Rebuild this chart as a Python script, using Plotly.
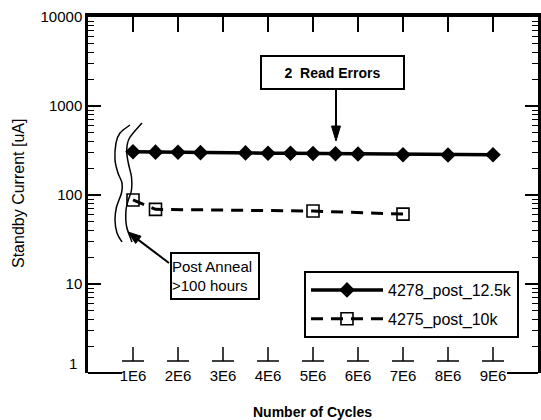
import plotly.graph_objects as go

# ---------------- data ----------------
cycles_a = [1, 1.5, 2, 2.5, 3.5, 4, 4.5, 5, 5.5, 6, 7, 8, 9]          # x 1E6 cycles
current_a = [306, 303, 302, 299, 297, 295, 294, 293, 291, 289, 283, 282, 283]  # uA
cycles_b = [1, 1.5, 5, 7]
current_b = [88, 69, 66, 61]
name_a = "4278_post_12.5k"
name_b = "4275_post_10k"
x_tickvals = [1, 2, 3, 4, 5, 6, 7, 8, 9]
x_ticktext = ["1E6", "2E6", "3E6", "4E6", "5E6", "6E6", "7E6", "8E6", "9E6"]
y_tickvals = [10, 100, 1000, 10000]
y_ticktext = ["10", "100", "1000", "10000"]
y_decades = [1, 10, 100, 1000]
y_minor_digits = [2, 3, 4, 5, 6, 7, 8, 9]
y_bottom_label = "1"
x_title = "Number of Cycles"
y_title = "Standby Current [uA]"

W, H = 541, 420
L, R, T, B = 88, 3, 17, 47
PW, PH = W - L - R, H - T - B
FONT = "Liberation Sans, Arial, Helvetica, sans-serif"


def px2paper(px, py):
    return (px - L) / PW, (H - B - py) / PH


def smooth_path(points):
    pts = [px2paper(x, y) for x, y in points]
    d = "M %.5f,%.5f" % pts[0]
    n = len(pts)
    for i in range(n - 1):
        p0 = pts[i - 1] if i > 0 else pts[i]
        p1 = pts[i]
        p2 = pts[i + 1]
        p3 = pts[i + 2] if i + 2 < n else pts[i + 1]
        c1 = (p1[0] + (p2[0] - p0[0]) / 6, p1[1] + (p2[1] - p0[1]) / 6)
        c2 = (p2[0] - (p3[0] - p1[0]) / 6, p2[1] - (p3[1] - p1[1]) / 6)
        d += " C %.5f,%.5f %.5f,%.5f %.5f,%.5f" % (c1 + c2 + p2)
    return d


def arrow_shapes(tail, head, hl=13, hw=8, lw=2):
    import math
    dx, dy = head[0] - tail[0], head[1] - tail[1]
    ln = math.hypot(dx, dy)
    ux, uy = dx / ln, dy / ln
    bx, by = head[0] - ux * hl, head[1] - uy * hl
    nx, ny = -uy, ux
    a = px2paper(bx + nx * hw / 2, by + ny * hw / 2)
    b = px2paper(bx - nx * hw / 2, by - ny * hw / 2)
    h = px2paper(*head)
    t = px2paper(*tail)
    bb = px2paper(bx, by)
    return [
        dict(type="line", xref="paper", yref="paper", x0=t[0], y0=t[1], x1=bb[0], y1=bb[1],
             line=dict(color="black", width=lw)),
        dict(type="path", xref="paper", yref="paper",
             path="M %.5f,%.5f L %.5f,%.5f L %.5f,%.5f Z" % (h + a + b),
             fillcolor="black", line=dict(color="black", width=1)),
    ]


fig = go.Figure()
fig.add_trace(go.Scatter(
    x=cycles_a, y=current_a, name=name_a, mode="lines+markers", legendgroup="a",
    line=dict(color="black", width=3.5),
    marker=dict(symbol="diamond", size=12, color="black"),
))
fig.add_trace(go.Scatter(
    x=cycles_b, y=current_b, name=name_b, mode="lines+markers", legendgroup="b",
    line=dict(color="black", width=3, dash="12px,8px"),
    marker=dict(symbol="square-open", size=12, color="black", line=dict(width=1.6)),
))
# invisible trace on top axis so it is drawn
fig.add_trace(go.Scatter(x=[None], y=[None], xaxis="x2", showlegend=False))

shapes = []
# bottom tick marks (inverted T shapes)
for v in x_tickvals:
    y0 = px2paper(0, 361)[1]
    y1 = px2paper(0, 347)[1]
    shapes.append(dict(type="line", xref="x", yref="paper", x0=v, x1=v, y0=y0, y1=y1,
                       line=dict(color="black", width=1.5)))
    shapes.append(dict(type="line", xref="x", yref="paper", x0=v - 0.245, x1=v + 0.245,
                       y0=y0, y1=y0, line=dict(color="black", width=1.5)))
# bottom axis line pieces (broken by the tick labels)
shapes.append(dict(type="line", xref="paper", yref="paper", x0=0, x1=px2paper(122, 0)[0],
                   y0=0, y1=0, line=dict(color="black", width=2)))
shapes.append(dict(type="line", xref="paper", yref="paper", x0=px2paper(507, 0)[0], x1=1,
                   y0=0, y1=0, line=dict(color="black", width=2)))
# wavy bracket lines
left_curve = [(130, 125), (120, 133), (116, 143), (115, 160), (118, 173), (122, 183),
              (121.5, 193), (116.5, 207), (115, 220), (117, 233), (122, 242)]
right_curve = [(142, 123), (129.5, 138), (126.7, 150), (128.3, 163), (131.5, 177),
               (131.5, 190), (128.3, 200), (126, 210), (126.5, 226), (132, 242)]
for c in (left_curve, right_curve):
    shapes.append(dict(type="path", xref="paper", yref="paper", path=smooth_path(c),
                       line=dict(color="black", width=1.5)))
# arrows
shapes += arrow_shapes((336, 90), (336, 141), hl=15, hw=9)
shapes += arrow_shapes((169, 263), (128, 232), hl=13, hw=9)

annotations = [
    dict(xref="paper", yref="paper", x=px2paper(332.5, 0)[0], y=px2paper(0, 72.5)[1],
         xanchor="center", yanchor="middle",
         text="<b>2\u00a0 Read Errors</b>", showarrow=False, width=141, height=31,
         bordercolor="black", borderwidth=2, borderpad=0, bgcolor="white",
         font=dict(family=FONT, size=14, color="black")),
    dict(xref="paper", yref="paper", x=px2paper(215, 0)[0], y=px2paper(0, 276)[1],
         xanchor="center", yanchor="middle",
         text="Post Anneal<br>>100 hours", showarrow=False, width=86, height=44,
         align="left", bordercolor="black", borderwidth=2, borderpad=0, bgcolor="white",
         font=dict(family=FONT, size=15, color="black")),
    dict(xref="paper", yref="paper", x=0, y=0, xanchor="right", yanchor="middle",
         xshift=-9, yshift=10, text=y_bottom_label, showarrow=False,
         font=dict(family=FONT, size=15, color="black")),
    # axis titles
    dict(xref="paper", yref="paper", x=px2paper(312, 0)[0], y=px2paper(0, 412)[1],
         xanchor="center", yanchor="middle", text="<b>" + x_title + "</b>", showarrow=False,
         font=dict(family=FONT, size=14, color="black")),
    dict(xref="paper", yref="paper", x=px2paper(18, 0)[0], y=px2paper(0, 194)[1],
         xanchor="center", yanchor="middle", text=y_title, showarrow=False, textangle=-90,
         font=dict(family=FONT, size=16, color="black")),
]

minor_vals = [d * m for d in y_decades for m in y_minor_digits]

fig.update_layout(
    width=W, height=H,
    margin=dict(l=L, r=R, t=T, b=B, pad=0),
    paper_bgcolor="white", plot_bgcolor="white",
    font=dict(family=FONT, size=15, color="black"),
    showlegend=True,
    legend=dict(x=px2paper(304, 0)[0], y=px2paper(0, 271)[1], xanchor="left", yanchor="top",
                bordercolor="black", borderwidth=2, bgcolor="white",
                itemwidth=72, tracegroupgap=5,
                font=dict(family=FONT, size=16, color="black")),
    xaxis=dict(range=[0, 10], showline=False, showgrid=False, zeroline=False,
               tickvals=x_tickvals, ticktext=x_ticktext, ticks="",
               ticklabelstandoff=-8, automargin=False),
    xaxis2=dict(range=[0, 10], overlaying="x", side="top", anchor="y", showline=True,
                linewidth=3.5, linecolor="black", showgrid=False, zeroline=False,
                tickvals=x_tickvals, ticks="inside", ticklen=15, tickwidth=2,
                tickcolor="black", showticklabels=False, automargin=False),
    yaxis=dict(type="log", range=[0, 4], showline=True, linewidth=2.5, linecolor="black",
               mirror="ticks", showgrid=False, zeroline=False, automargin=False,
               tickmode="array", tickvals=y_tickvals, ticktext=y_ticktext,
               ticks="inside", ticklen=13, tickwidth=2, tickcolor="black",
               minor=dict(tickmode="array", tickvals=minor_vals, ticks="inside", ticklen=6,
                          tickwidth=1, tickcolor="black", showgrid=False)),
    shapes=shapes,
    annotations=annotations,
)

fig.write_html("out.html", config={"displayModeBar": False},
               post_script="document.body.style.margin='0';")
